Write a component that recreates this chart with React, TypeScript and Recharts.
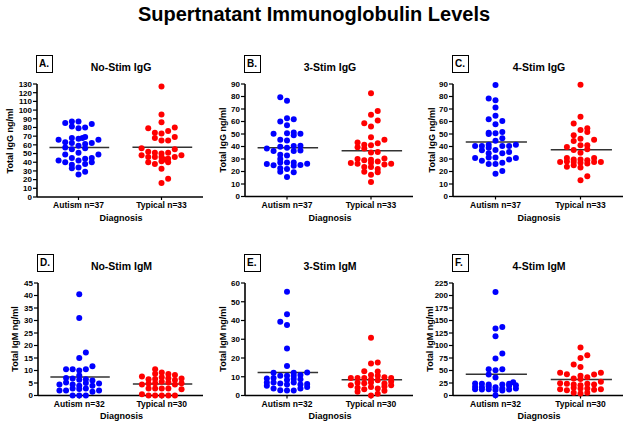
import React from "react";
import { ScatterChart, Scatter, XAxis, YAxis, ReferenceLine } from "recharts";

// values; each point is [jitter slot, ng/ml]
const GROUPS = ["Autism", "Typical"];
const IGG_N = [37, 33];
const IGM_N = [32, 30];

const noStimIgGAutism = [
  [-2, 85], [-1, 87], [0, 87], [2, 84], [-1, 81], [0, 79], [1, 80], [-3, 66], [3, 66], [-1, 68],
  [0, 67], [0.6, 68], [1, 69], [-2, 63], [-1, 62], [1, 61], [2, 62], [0, 59], [-1, 55], [1, 56],
  [-2, 49], [0, 51], [3, 49], [-3, 42], [-2, 40], [-1, 45], [0, 42], [1, 44], [2, 45], [2, 40],
  [1, 38], [-1, 37], [-1, 33], [0, 34], [1, 29], [0, 26], [-2, 57],
];
const noStimIgGTypical = [
  [0, 127], [0, 95], [0, 86], [-2, 79], [2, 80], [-1, 74], [0, 73], [1, 76], [-1, 68], [2, 69],
  [0, 65], [1, 65], [-3, 56], [2, 55], [-3, 48], [-2, 52], [-1, 51], [0, 50], [1, 51], [3, 48],
  [2, 46], [-2, 46], [-1, 46], [-2, 40], [-1, 38], [0, 41], [1, 40], [0, 32.5], [1, 21], [0, 16],
  [0, 46], [1, 44], [0.5, 43],
];
const threeStimIgGAutism = [
  [-1, 79.4], [0, 76.7], [-1, 60], [0, 62.7], [1, 61.9], [0, 57], [-2, 50.2], [0, 50.7], [1, 51.2], [2, 50.2],
  [1, 49], [-1, 45.4], [0, 44.9], [-3, 38.5], [-2, 36.4], [-1, 39.8], [0, 39], [1, 36.4], [2, 40.6], [2, 36.9],
  [-1, 33.4], [0, 32.9], [-3, 26], [-2, 25], [-1, 27.3], [0, 27.3], [1, 27.3], [3, 26.3], [2, 25.2], [-1, 22.6],
  [0, 22], [1, 24.7], [-1, 19.9], [1, 19.4], [0, 15.7], [1, 40.5], [-1, 30],
];
const threeStimIgGTypical = [
  [0, 82.6], [0, 65.5], [1, 68.5], [-1, 58.7], [1, 60.8], [0, 56], [0, 47.5], [-2, 43.3], [-1, 41.4], [1, 42.7],
  [2, 45.4], [0, 41], [-1, 38.5], [0, 35.3], [1, 35.6], [-2, 30], [-1, 29], [2, 30.5], [0, 29.5], [-3, 26.8],
  [-2, 26.3], [1, 28], [3, 26.3], [2, 25.7], [-1, 23.6], [0, 23.6], [1, 22], [-1, 19.9], [1, 19.4], [0, 17.5],
  [0, 11.7], [0, 27], [-2, 39.5],
];
const fourStimIgGAutism = [
  [0, 89.2], [-1, 78.5], [0, 77.1], [0, 71.3], [-1, 61.9], [0, 64.6], [1, 60.5], [0, 57.9], [-1, 51], [0, 50.6],
  [1, 51.7], [1, 46.6], [0, 44.7], [-3, 40.4], [-2, 40.4], [-1, 41.5], [-1, 39], [1, 40.4], [2, 40.4], [3, 41.5],
  [-2, 37], [0, 37.2], [2, 35.6], [-1, 34.6], [1, 34.6], [-3, 30.8], [-1, 31.3], [0, 31.3], [2, 29.7], [3, 30.8],
  [-2, 28.7], [1, 27], [-1, 26], [0, 26], [1, 20.4], [0, 18.2], [-1, 50],
];
const fourStimIgGTypical = [
  [0, 89.5], [0, 63.8], [-1, 58.4], [1, 54.6], [0, 53.3], [1, 51.7], [-1, 49], [0, 46.3], [2, 45.5], [-1, 44.5],
  [-2, 39.6], [0, 41], [1, 41], [1, 37.8], [-1, 37.2], [0, 35.1], [-2, 30.8], [-1, 29.7], [0, 29.7], [2, 30.8],
  [-3, 27.6], [-1, 27.6], [1, 26.5], [2, 27.6], [3, 27.6], [-2, 23.8], [0, 23.3], [1, 16.3], [0, 13.1], [1, 29],
  [0, 27], [-1, 25], [-2, 28],
];
const noStimIgMAutism = [
  [0, 40.5], [0, 31], [1, 17.2], [0, 15], [2, 11.7], [-2, 10.5], [-1, 10.5], [0, 10], [1, 10.5], [-1, 6.8],
  [1, 6.5], [0, 6.3], [-3, 4.4], [-2, 5.2], [-1, 4.4], [0, 3.9], [1, 5], [2, 3.9], [3, 4.8], [-3, 2],
  [-2, 2], [-1, 2.8], [0, 2.6], [1, 2.8], [2, 1.5], [3, 2], [-1, 0], [0, 0], [1, 0], [2, 6],
  [-2, 7], [0, 8],
];
const noStimIgMTypical = [
  [-3, 0.5], [-2, 0], [-1, 0], [0, 0], [1, 0], [2, 0], [-2, 2.8], [-1, 2.8], [0, 2.8], [1, 2.8],
  [3, 2.5], [-3, 4.4], [-2, 4.8], [-1, 4.9], [0, 5.5], [1, 5.2], [2, 4.4], [3, 4.9], [-3, 7.6], [-2, 6.5],
  [-1, 6.6], [0, 7.3], [1, 6.9], [2, 6.2], [3, 6.8], [-1, 8.7], [0, 9.2], [1, 8.6], [-1, 10.5], [2, 8.2],
];
const threeStimIgMAutism = [
  [0, 55.4], [0, 43.3], [-1, 39.3], [0, 37.6], [0, 25.1], [0, 15.7], [-2, 12.1], [3, 12.3], [-1, 10.5], [0, 10.5],
  [1, 10.5], [2, 10.9], [-3, 9.1], [2, 8.7], [-2, 6.9], [-1, 6.4], [0, 5.9], [1, 6.9], [2, 5.9], [3, 6.2],
  [-3, 5.2], [3, 4.5], [-2, 3.7], [-1, 2.8], [0, 2.7], [1, 2.7], [2, 3.7], [0, 8.3], [1, 8.8], [-2, 9.4],
  [1, 12.2], [-3, 7],
];
const threeStimIgMTypical = [
  [0, 30.8], [0, 17.1], [1, 17.6], [-1, 13], [-3, 9.4], [-2, 9.4], [-1, 9.4], [0, 10.9], [1, 10.5], [2, 9.8],
  [3, 9.4], [-3, 5.5], [-1, 6.6], [0, 6.9], [1, 8.2], [2, 6.4], [3, 5.5], [-2, 4.1], [-1, 3.4], [0, 4.5],
  [1, 3.7], [2, 4.8], [0, 0], [1, 1], [-2, 6.8], [0, 8.6], [1, 12.8], [2, 2.5], [-2, 2], [3, 7.5],
];
const fourStimIgMAutism = [
  [0, 207], [0, 134], [1, 137], [0, 118.5], [1, 84], [0, 74], [-1, 52.6], [0, 50.6], [1, 52.6], [0, 36],
  [-1, 42], [-3, 24], [-2, 23.3], [-1, 22], [1, 22], [2, 23.3], [2.6, 26.5], [3, 20.6], [-3, 17.3], [-2, 16.6],
  [-1, 18], [0, 16.6], [1, 14], [2, 19.3], [3, 14], [-3, 12.6], [-2, 12], [-1, 12.6], [1, 10], [2, 12],
  [0, 11], [0, 0.7],
];
const fourStimIgMTypical = [
  [0, 96], [0, 75], [1, 80.5], [-1, 62], [0, 57], [-3, 45.3], [-2, 42.6], [0, 39.3], [2, 42], [3, 45.3],
  [-1, 34], [0, 33], [1, 36.6], [-3, 24.6], [-2, 23.3], [-1, 22], [0, 20.6], [1, 23.3], [3, 27.3], [2, 22],
  [-3, 12.6], [-2, 10.6], [-1, 15.3], [0, 14], [1, 14], [2, 11.3], [3, 12.6], [-1, 5.3], [0, 4], [1, 5.3],
];

// group means as drawn (autism, typical)
const MEANS = {
  A: [57, 57.3], B: [39, 36.6], C: [43.7, 37.5],
  D: [7.4, 4.6], E: [12.3, 8.4], F: [42.6, 32],
};

const TICKS_130 = [0, 10, 20, 30, 40, 50, 60, 70, 80, 90, 100, 110, 120, 130];
const TICKS_90 = [0, 10, 20, 30, 40, 50, 60, 70, 80, 90];
const TICKS_45 = [0, 5, 10, 15, 20, 25, 30, 35, 40, 45];
const TICKS_60 = [0, 10, 20, 30, 40, 50, 60];
const TICKS_225 = [0, 25, 50, 75, 100, 125, 150, 175, 200, 225];

const FONT = '"Liberation Sans", Arial, Helvetica, sans-serif';
const BLUE = "#0000ff";
const RED = "#ff0000";
const SLOT = 0.08;
const Y_W = 30;
const M_TOP = 6;
const M_RIGHT = 4;
const X_H = 20;

const panels = [
  { key: "A", title: "No-Stim IgG", yLabel: "Total IgG ng/ml", n: IGG_N, ticks: TICKS_130, autism: noStimIgGAutism, typical: noStimIgGTypical, left: 37, top: 84, w: 166, h: 113, labelX: 10 },
  { key: "B", title: "3-Stim IgG", yLabel: "Total IgG ng/ml", n: IGG_N, ticks: TICKS_90, autism: threeStimIgGAutism, typical: threeStimIgGTypical, left: 245, top: 84, w: 168, h: 112.5, labelX: 223 },
  { key: "C", title: "4-Stim IgG", yLabel: "Total IgG ng/ml", n: IGG_N, ticks: TICKS_90, autism: fourStimIgGAutism, typical: fourStimIgGTypical, left: 453, top: 84, w: 170, h: 112.5, labelX: 432 },
  { key: "D", title: "No-Stim IgM", yLabel: "Total IgM ng/ml", n: IGM_N, ticks: TICKS_45, autism: noStimIgMAutism, typical: noStimIgMTypical, left: 38, top: 282.5, w: 165, h: 112.5, labelX: 15 },
  { key: "E", title: "3-Stim IgM", yLabel: "Total IgM ng/ml", n: IGM_N, ticks: TICKS_60, autism: threeStimIgMAutism, typical: threeStimIgMTypical, left: 245, top: 282.5, w: 168, h: 112.5, labelX: 223 },
  { key: "F", title: "4-Stim IgM", yLabel: "Total IgM ng/ml", n: IGM_N, ticks: TICKS_225, autism: fourStimIgMAutism, typical: fourStimIgMTypical, left: 453, top: 282.5, w: 170, h: 112.5, labelX: 430 },
];

const toPoints = (pts: number[][], cat: number) => pts.map(([s, v]) => ({ x: cat + s * SLOT, y: v }));

const dot = (color: string) => (p: any) => <circle cx={p.cx} cy={p.cy} r={3} fill={color} />;

function Panel({ p }: { p: (typeof panels)[number] }) {
  const means = MEANS[p.key as keyof typeof MEANS];
  const yMax = p.ticks[p.ticks.length - 1];
  const cx = p.left + p.w / 2 + 1;
  const text: React.CSSProperties = { position: "absolute", fontWeight: "bold", color: "#000", whiteSpace: "nowrap" };
  return (
    <>
      <div
        style={{
          ...text, left: p.left - 1, top: p.top - 29, width: 17, height: 18, boxSizing: "border-box",
          border: "1.5px solid #000", fontSize: 10, lineHeight: "15px", paddingLeft: 2,
        }}
      >
        {p.key}.
      </div>
      <div style={{ ...text, left: cx, top: p.top - 17, fontSize: 10.5, transform: "translate(-50%, -50%)" }}>{p.title}</div>
      <div
        style={{ ...text, left: p.labelX, top: p.top + p.h / 2, fontSize: 9, transform: "translate(-50%, -50%) rotate(-90deg)" }}
      >
        {p.yLabel}
      </div>
      <div style={{ ...text, left: cx, top: p.top + p.h + 21, fontSize: 9, transform: "translate(-50%, -50%)" }}>Diagnosis</div>
      <div style={{ position: "absolute", left: p.left - Y_W, top: p.top - M_TOP }}>
        <ScatterChart
          width={Y_W + p.w + M_RIGHT}
          height={M_TOP + p.h + X_H}
          margin={{ top: M_TOP, right: M_RIGHT, bottom: 0, left: 0 }}
        >
          <XAxis
            type="number"
            dataKey="x"
            domain={[0.5, 2.5]}
            ticks={[1, 2]}
            interval={0}
            height={X_H}
            tickFormatter={(v: number) => `${GROUPS[v - 1]} n=${p.n[v - 1]}`}
            tick={{ fontSize: 8.5, fontWeight: "bold", fill: "#000", fontFamily: FONT }}
            axisLine={{ stroke: "#000", strokeWidth: 1.6 }}
            tickLine={{ stroke: "#000", strokeWidth: 1.2 }}
            tickSize={3}
            tickMargin={2}
          />
          <YAxis
            type="number"
            dataKey="y"
            domain={[0, yMax]}
            ticks={p.ticks}
            interval={0}
            width={Y_W}
            tick={{ fontSize: 8, fontWeight: "bold", fill: "#000", fontFamily: FONT }}
            axisLine={{ stroke: "#000", strokeWidth: 1.6 }}
            tickLine={{ stroke: "#000", strokeWidth: 1.2 }}
            tickSize={4}
            tickMargin={1}
          />
          <Scatter data={toPoints(p.autism, 1)} shape={dot(BLUE)} isAnimationActive={false} />
          <Scatter data={toPoints(p.typical, 2)} shape={dot(RED)} isAnimationActive={false} />
          <ReferenceLine segment={[{ x: 0.65, y: means[0] }, { x: 1.37, y: means[0] }]} stroke="#333" strokeWidth={1.5} />
          <ReferenceLine segment={[{ x: 1.65, y: means[1] }, { x: 2.37, y: means[1] }]} stroke="#333" strokeWidth={1.5} />
        </ScatterChart>
      </div>
    </>
  );
}

export default function App() {
  return (
    <div
      style={{
        position: "absolute", left: 0, top: 0, width: 629, height: 427,
        background: "#fff", fontFamily: FONT, overflow: "hidden",
      }}
    >
      <div
        style={{
          position: "absolute", left: 314, top: 14, transform: "translate(-50%, -50%)",
          fontSize: 20, fontWeight: "bold", whiteSpace: "nowrap",
        }}
      >
        Supertnatant Immunoglobulin Levels
      </div>
      {panels.map((p) => (
        <Panel key={p.key} p={p} />
      ))}
    </div>
  );
}
